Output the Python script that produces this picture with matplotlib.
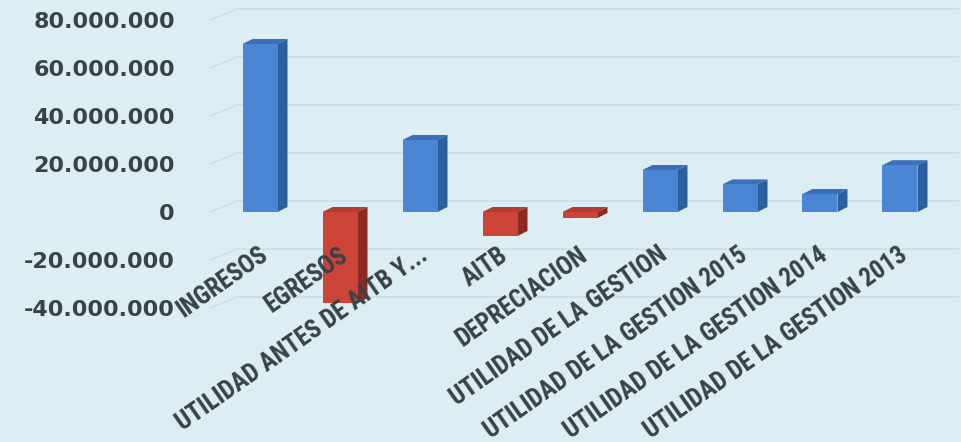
import matplotlib
matplotlib.use("Agg")
import matplotlib.pyplot as plt
from matplotlib import font_manager
from matplotlib.font_manager import FontProperties
from matplotlib.patches import Polygon, Rectangle

categorias = ["INGRESOS", "EGRESOS", "UTILIDAD ANTES DE AITB Y...", "AITB",
              "DEPRECIACION", "UTILIDAD DE LA GESTION",
              "UTILIDAD DE LA GESTION 2015", "UTILIDAD DE LA GESTION 2014",
              "UTILIDAD DE LA GESTION 2013"]
valores = [70000000, -38000000, 30000000, -10000000, -2500000,
           17500000, 11500000, 7500000, 19500000]
ticks_y = [-40000000, -20000000, 0, 20000000, 40000000, 60000000, 80000000]

fondo = "#DCEEF4"
azul = ("#4A86D4", "#2D5E9E", "#3B6FB6")   # frente, lado, tapa
rojo = ("#CC4438", "#8E2A24", "#B23A31")

# busco una fuente angosta, si no hay uso DejaVu mas chica
fam_x, tam_x, stretch_x = "DejaVu Sans", 13, "normal"
for fam, tam, st in [("Roboto Condensed", 18, "normal"), ("Liberation Sans Narrow", 18, "normal"),
                     ("DejaVu Sans Condensed", 16, "normal"), ("Roboto", 18, "condensed"),
                     ("Open Sans", 18, "condensed")]:
    try:
        ruta = font_manager.findfont(FontProperties(family=fam, weight="bold", stretch=st),
                                     fallback_to_default=False)
        if st == "normal" or "ondensed" in ruta:
            fam_x, tam_x, stretch_x = fam, tam, st
            break
    except Exception:
        pass

W, H = 962, 442
fig = plt.figure(figsize=(W / 100, H / 100), dpi=100)
fig.patch.set_facecolor(fondo)

# area del grafico en pixeles
x_izq, x_der = 225, 945
y_cero, px_20m = 212, 48
y_top = y_cero - 4 * px_20m
y_bot = y_cero + 2 * px_20m
ax = fig.add_axes([x_izq / W, 1 - y_bot / H, (x_der - x_izq) / W, (y_bot - y_top) / H])
ax.set_facecolor("none")
ax.set_xlim(-0.5, len(categorias) - 0.5)
ax.set_ylim(ticks_y[0], ticks_y[-1])

# unidades de datos por pixel
upx = len(categorias) / (x_der - x_izq)
upy = (ticks_y[-1] - ticks_y[0]) / (y_bot - y_top)

# pared del fondo (lineas de division desplazadas)
gdx, gdy = 12 * upx, 11 * upy
fin = len(categorias) - 0.5 + 14 * upx
for t in ticks_y:
    ax.plot([-0.5 - 15 * upx, -0.5 + gdx], [t, t + gdy], color="#CCDEE5", lw=1.1, zorder=0, clip_on=False)
    ax.plot([-0.5 + gdx, fin], [t + gdy, t + gdy], color="#CCDEE5", lw=1.1, zorder=0, clip_on=False)

# barras con efecto 3d
bw = 35 * upx
dx, dy = 10 * upx, 5 * upy
for i, v in enumerate(valores):
    frente, lado, tapa = azul if v >= 0 else rojo
    x0 = i - (bw + dx) / 2
    x1 = x0 + bw
    arriba = max(v, 0)
    ax.add_patch(Polygon([(x1, 0), (x1, v), (x1 + dx, v + dy), (x1 + dx, dy)],
                         closed=True, facecolor=lado, edgecolor="none", zorder=2))
    ax.add_patch(Polygon([(x0, arriba), (x1, arriba), (x1 + dx, arriba + dy), (x0 + dx, arriba + dy)],
                         closed=True, facecolor=tapa, edgecolor="none", zorder=2))
    ax.add_patch(Rectangle((x0, 0), bw, v, facecolor=frente, edgecolor="none", zorder=3))

ax.set_xticks([])
ax.set_yticks(ticks_y)
ax.set_yticklabels([f"{t:,.0f}".replace(",", ".") for t in ticks_y],
                   fontsize=16, fontweight="bold", color="#3A4247")
ax.tick_params(axis="y", length=0, pad=36)
for s in ax.spines.values():
    s.set_visible(False)

for i, c in enumerate(categorias):
    ax.annotate(c, xy=(i, 0), xytext=(-5, -22), textcoords="offset points",
                rotation=35, rotation_mode="anchor", ha="right", va="top",
                fontsize=tam_x, fontweight="bold", fontstretch=stretch_x, color="#3A4247",
                family=[fam_x, "DejaVu Sans"],
                annotation_clip=False, zorder=5)

fig.savefig("out.png", dpi=100, facecolor=fondo)
